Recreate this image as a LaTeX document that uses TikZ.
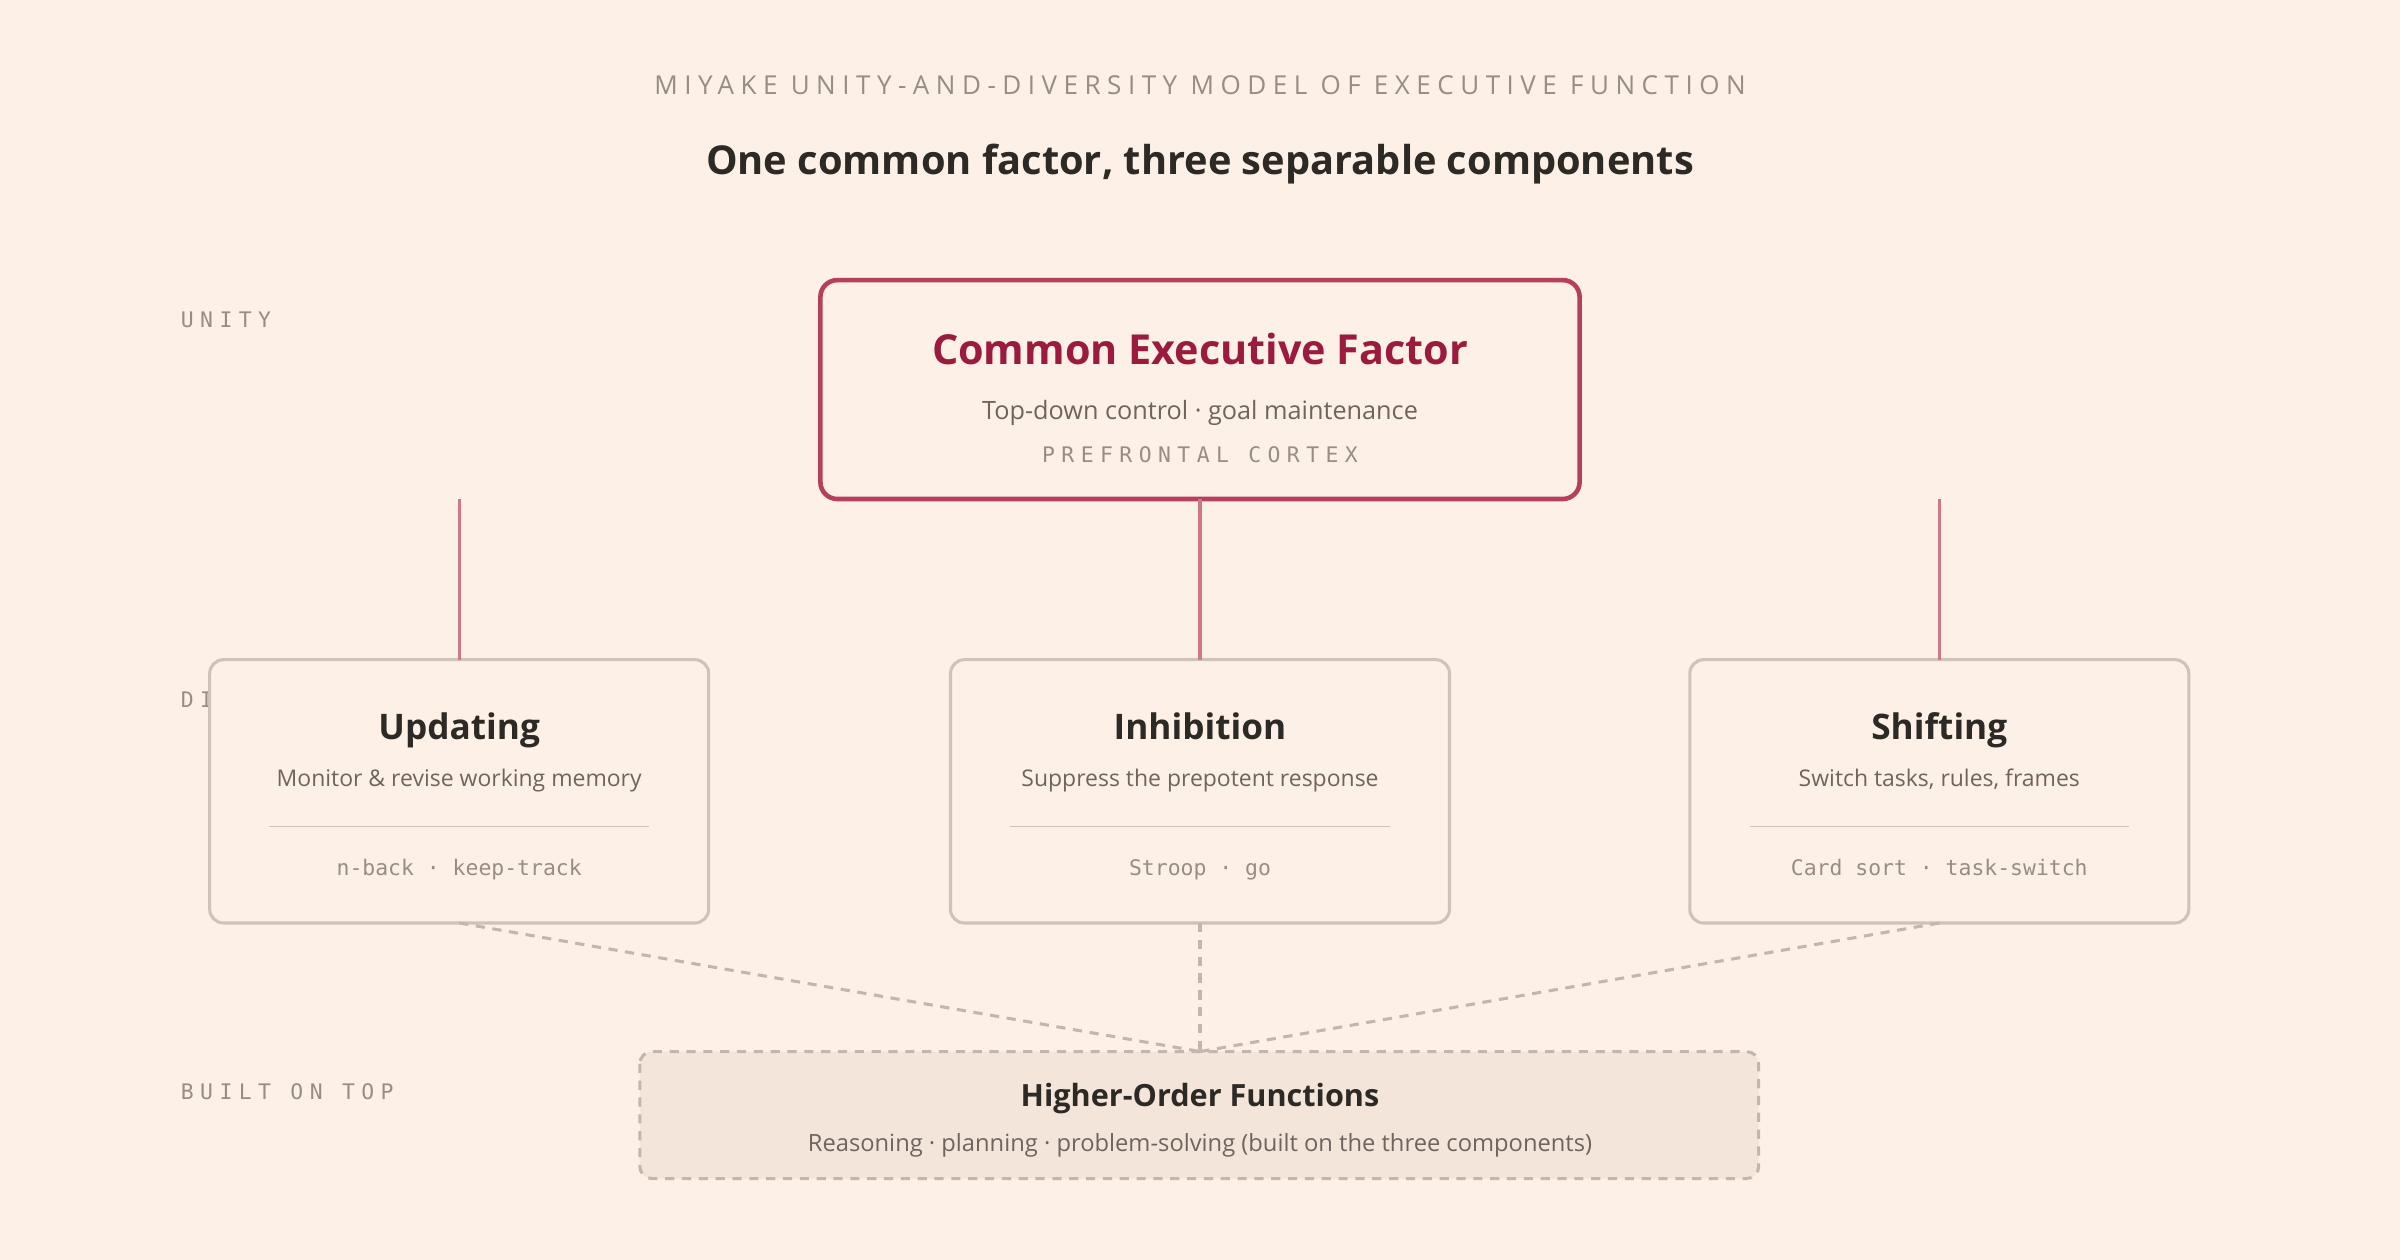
\documentclass[tikz,border=0pt]{standalone}
\usepackage{fontspec}
\setmainfont{Open Sans}
\newfontfamily\capsfont[LetterSpace=25]{Open Sans}
\newfontfamily\monofont{DejaVu Sans Mono}
\newfontfamily\monocaps[LetterSpace=30]{DejaVu Sans Mono}
\usetikzlibrary{positioning}
\definecolor{bgpaper}{HTML}{FDF0E6}
\definecolor{inkdark}{HTML}{2D2A26}
\definecolor{inkgray}{HTML}{6E655E}
\definecolor{inklight}{HTML}{9A8C82}
\definecolor{crimson}{HTML}{9B1B3E}
\definecolor{crimsonline}{HTML}{B5405E}
\definecolor{linkpink}{HTML}{D07888}
\definecolor{boxline}{HTML}{D0C2B7}
\definecolor{dashline}{HTML}{C4B6AC}
\definecolor{basefill}{HTML}{F3E5DA}
\tikzset{
  txt/.style={inner sep=0pt,anchor=base},
  lanelabel/.style={txt,anchor=base west,text=inklight,font=\monocaps\fontsize{14}{14}\selectfont},
  compbox/.style={draw=boxline,line width=2pt,rounded corners=9pt,fill=bgpaper},
  comptitle/.style={txt,text=inkdark,font=\bfseries\fontsize{23}{23}\selectfont},
  compdesc/.style={txt,text=inkgray,font=\fontsize{15}{15}\selectfont},
  comptask/.style={txt,text=inklight,font=\monofont\fontsize{14}{14}\selectfont},
  link/.style={draw=linkpink,line width=2pt},
  feed/.style={draw=dashline,line width=2pt,dash pattern=on 6pt off 5pt}
}
\begin{document}
\begin{tikzpicture}[x=1pt,y=-1pt]
  % Background
  \fill[bgpaper] (0,0) rectangle (1568,823);
  \useasboundingbox (0,0) rectangle (1568,823);
  % Heading
  \node[txt,text=inklight,font=\capsfont\fontsize{17}{17}\selectfont] (kicker) at (784,62)
    {MIYAKE UNITY-AND-DIVERSITY MODEL OF EXECUTIVE FUNCTION};
  \node[txt,text=inkdark,font=\bfseries\fontsize{26}{26}\selectfont] (headline) at (784,114)
    {One common factor, three separable components};
  % Lane labels
  \node[lanelabel] (unity) at (118,214) {UNITY};
  \node[lanelabel] (diversity) at (118,462) {DIVERSITY};
  \node[lanelabel] (built) at (118,718) {BUILT ON TOP};
  % Common factor
  \draw[draw=crimsonline,line width=3pt,rounded corners=11pt,fill=bgpaper]
    (536,183) rectangle (1032,326);
  \node[txt,text=crimson,font=\bfseries\fontsize{27}{27}\selectfont] (common) at (784,238)
    {Common Executive Factor};
  \node[txt,text=inkgray,font=\fontsize{16.5}{16.5}\selectfont] (commondesc) at (784,274)
    {Top-down control · goal maintenance};
  \node[txt,text=inklight,font=\monocaps\fontsize{14}{14}\selectfont] (cortex) at (784,302)
    {PREFRONTAL CORTEX};
  % Components
  \foreach \cx/\name/\title/\desc/\tasks in {
      300/upd/Updating/Monitor \& revise working memory/n-back · keep-track,
      784/inh/Inhibition/Suppress the prepotent response/Stroop · go/no-go,
      1267/shf/Shifting/Switch tasks{,} rules{,} frames/Card sort · task-switch} {
    \draw[compbox] (\cx-163,431) rectangle (\cx+163,603);
    \coordinate (\name-top) at (\cx,431);
    \coordinate (\name-bot) at (\cx,603);
    \coordinate (\name-src) at (\cx,326);
    \node[comptitle] (\name-title) at (\cx,483) {\title};
    \node[compdesc] (\name-desc) at (\cx,514) {\desc};
    \draw[boxline,line width=1pt] (\cx-124,540) -- (\cx+124,540);
    \node[comptask] (\name-tasks) at (\cx,572) {\tasks};
    \draw[link] (\name-src) -- (\name-top);
  }
  % Higher-order functions
  \draw[feed,fill=basefill,rounded corners=8pt] (418,687) rectangle (1149,770);
  \coordinate (hof-top) at (784,687);
  \node[txt,text=inkdark,font=\bfseries\fontsize{20}{20}\selectfont] (hof) at (784,723)
    {Higher-Order Functions};
  \node[txt,text=inkgray,font=\fontsize{15.5}{15.5}\selectfont] (hofdesc) at (784,752)
    {Reasoning · planning · problem-solving (built on the three components)};
  \foreach \name in {upd,inh,shf}
    \draw[feed] (\name-bot) -- (hof-top);
\end{tikzpicture}
\end{document}
